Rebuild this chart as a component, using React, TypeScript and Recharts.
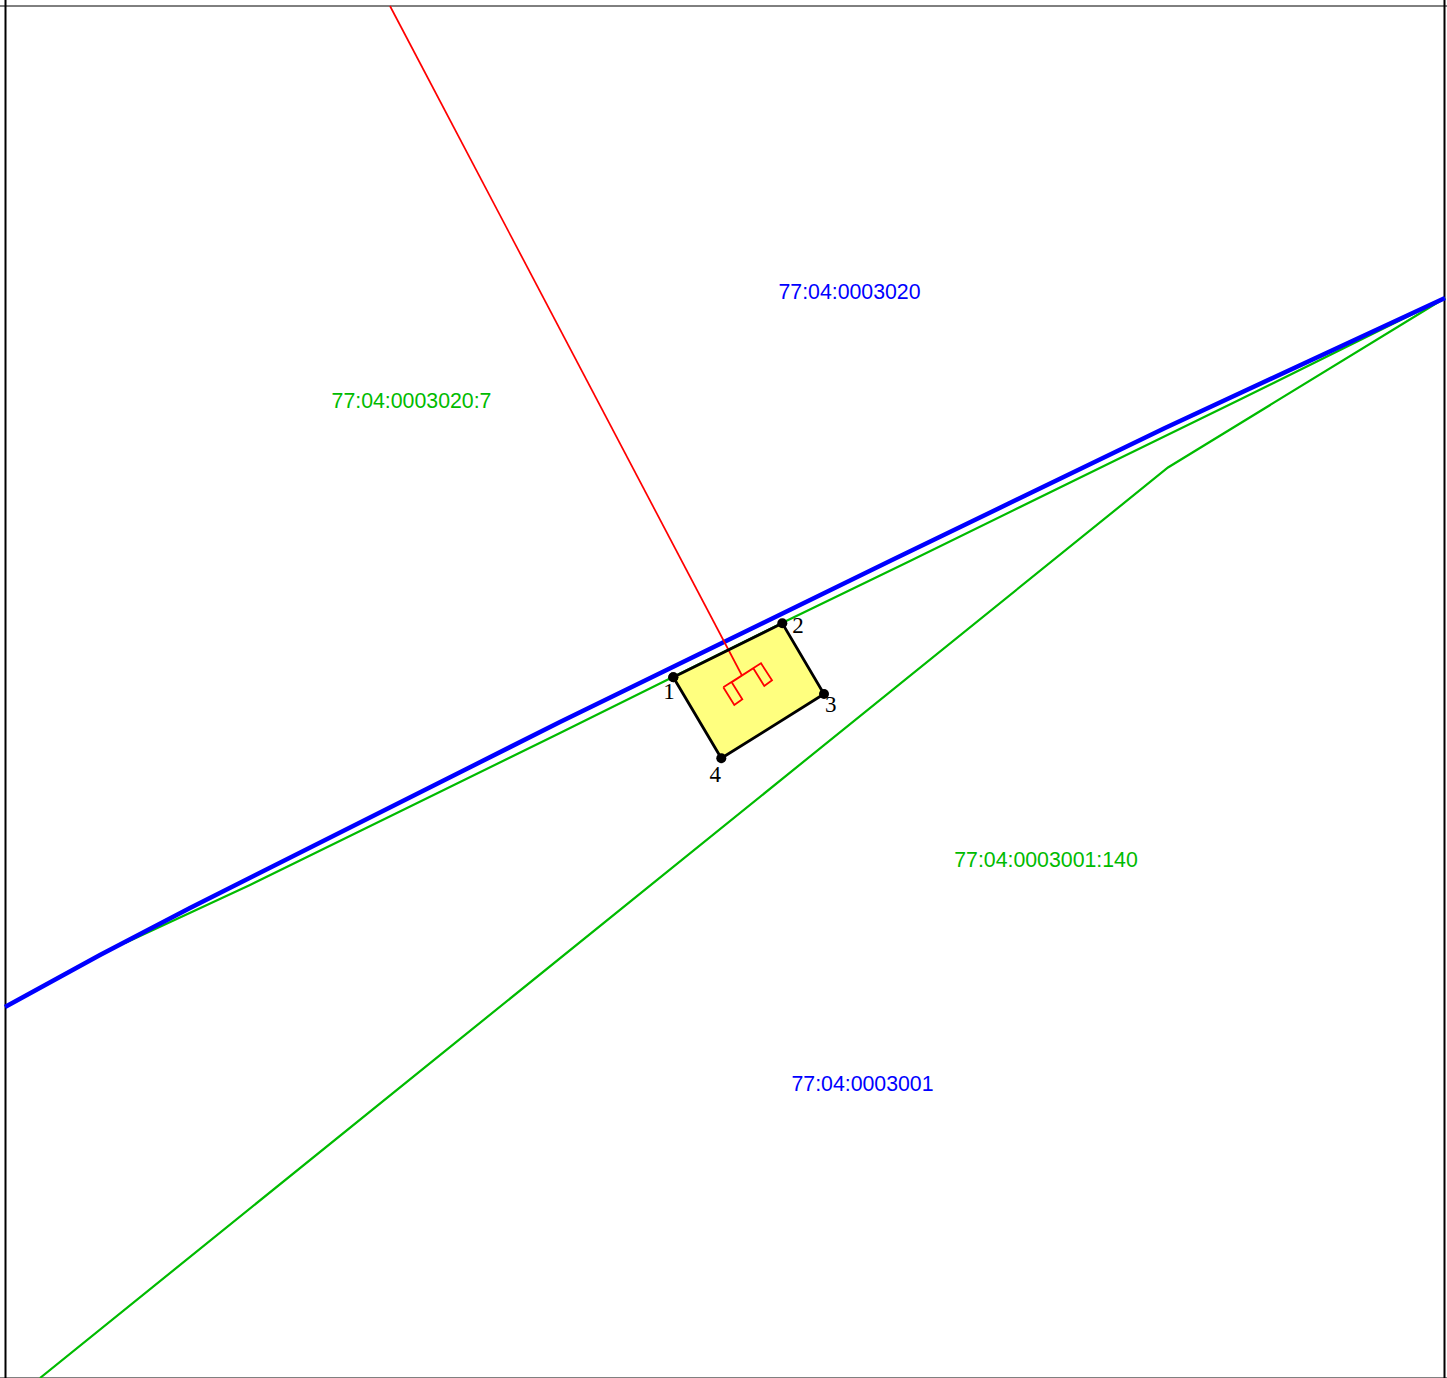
import React from 'react';
import {
    ComposedChart,
    Line,
    Area,
    Scatter,
    XAxis,
    YAxis,
    ReferenceLine,
} from 'recharts';

const quarterBoundary = [
    { x: 5, y: 1007 },
    { x: 100, y: 955 },
    { x: 190, y: 908 },
    { x: 560, y: 722 },
    { x: 892, y: 560 },
    { x: 1165, y: 428 },
    { x: 1445, y: 298 },
];

const neighbourUpper = [
    { x: 125, y: 943 },
    { x: 250, y: 885 },
    { x: 560, y: 733 },
    { x: 673, y: 677 },
    { x: 782, y: 623 },
    { x: 910, y: 561 },
    { x: 1110, y: 463 },
    { x: 1239, y: 400 },
    { x: 1445, y: 298 },
];

const neighbourLower = [
    { x: 40, y: 1378 },
    { x: 1168, y: 467.5 },
    { x: 1445, y: 298 },
];

const leaderLine = [
    { x: 390, y: 6 },
    { x: 741.7, y: 675 },
];

const parcelFill = [
    { x: 673.3, range: [677.3, 677.3] },
    { x: 721.3, range: [653.5, 758.3] },
    { x: 782.3, range: [623.3, 720.1] },
    { x: 824, range: [694, 694] },
];

const parcelOutline = [
    { x: 673.3, y: 677.3 },
    { x: 782.3, y: 623.3 },
    { x: 824, y: 694 },
    { x: 721.3, y: 758.3 },
    { x: 673.3, y: 677.3 },
];

const building = [
    { x: 723.3, y: 687.3 },
    { x: 734.3, y: 705 },
    { x: 742.3, y: 699.3 },
    { x: 731.7, y: 682.3 },
    { x: 753.3, y: 668.3 },
    { x: 764.3, y: 686 },
    { x: 772, y: 680.3 },
    { x: 761, y: 663.3 },
    { x: 723.3, y: 687.3 },
];

const quarterLabels = [
    { x: 849.5, y: 299, text: '77:04:0003020' },
    { x: 862.5, y: 1091, text: '77:04:0003001' },
];

const parcelLabels = [
    { x: 411.5, y: 408, text: '77:04:0003020:7' },
    { x: 1046, y: 867, text: '77:04:0003001:140' },
];

const cornerLabels = [
    { x: 669, y: 699, text: '1' },
    { x: 798, y: 632.7, text: '2' },
    { x: 830.7, y: 712, text: '3' },
    { x: 715.3, y: 782, text: '4' },
];

const makeLabel = (color: string, family: string, size: number) => (props: any) => (
    <text
        x={props.cx}
        y={props.cy}
        fill={color}
        fontFamily={family}
        fontSize={size}
        textAnchor="middle"
    >
        {props.payload.text}
    </text>
);

const BLUE = '#0000ff';
const GREEN = '#00bb00';
const RED = '#ff0000';

const App = () => {
    return (
        <div style={{ position: 'absolute', left: 0, top: 0, background: '#fff' }}>
            <ComposedChart width={1447} height={1378} margin={{ top: 0, right: 0, bottom: 0, left: 0 }}>
                <XAxis type="number" dataKey="x" domain={[0, 1447]} hide />
                <YAxis type="number" domain={[0, 1378]} reversed hide />
                <ReferenceLine x={5.5} stroke="#000" strokeWidth={2} />
                <ReferenceLine x={1444.5} stroke="#000" strokeWidth={2} />
                <ReferenceLine y={6} stroke="#000" strokeWidth={1} />
                <ReferenceLine y={1378} stroke="#000" strokeWidth={1} />
                <Line data={neighbourLower} dataKey="y" stroke={GREEN} strokeWidth={2.2} dot={false} activeDot={false} isAnimationActive={false} />
                <Line data={neighbourUpper} dataKey="y" stroke={GREEN} strokeWidth={2.2} dot={false} activeDot={false} isAnimationActive={false} />
                <Line data={quarterBoundary} dataKey="y" stroke={BLUE} strokeWidth={4.5} dot={false} activeDot={false} isAnimationActive={false} />
                <Line data={leaderLine} dataKey="y" stroke={RED} strokeWidth={1.7} dot={false} activeDot={false} isAnimationActive={false} />
                <Area data={parcelFill} dataKey="range" type="linear" stroke="none" fill="#ffff00" fillOpacity={0.5} dot={false} activeDot={false} isAnimationActive={false} />
                <Line data={building} dataKey="y" stroke={RED} strokeWidth={1.8} dot={false} activeDot={false} isAnimationActive={false} />
                <Line
                    data={parcelOutline}
                    dataKey="y"
                    stroke="#000"
                    strokeWidth={2.8}
                    dot={{ r: 5, fill: '#000', stroke: 'none' }}
                    activeDot={false}
                    isAnimationActive={false}
                />
                <Scatter data={quarterLabels} dataKey="y" shape={makeLabel(BLUE, 'Liberation Sans', 21.3)} isAnimationActive={false} />
                <Scatter data={parcelLabels} dataKey="y" shape={makeLabel(GREEN, 'Liberation Sans', 21.3)} isAnimationActive={false} />
                <Scatter data={cornerLabels} dataKey="y" shape={makeLabel('#000', 'Liberation Serif', 23)} isAnimationActive={false} />
            </ComposedChart>
        </div>
    );
};

export default App;
